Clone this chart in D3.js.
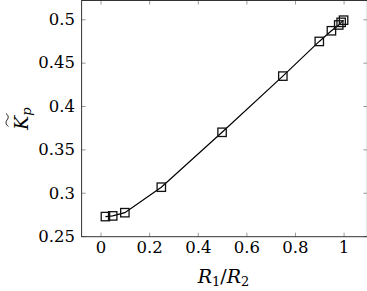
<!DOCTYPE html>
<html>
<head>
<meta charset="utf-8">
<script src="https://cdn.jsdelivr.net/npm/d3@7"></script>
<style>
  body { margin: 0; background: #fff; }
  svg { display: block; }
</style>
</head>
<body>
<div id="chart"></div>
<script>
// ratio R1/R2 and Kp (normalized)
const ratio = [0.02, 0.05, 0.1, 0.25, 0.5, 0.75, 0.9, 0.95, 0.98, 0.99, 1.0];
const kp = [0.2725, 0.2733, 0.277, 0.3064, 0.3697, 0.4345, 0.4745, 0.4868, 0.4935, 0.4965, 0.499];

const xTicks = [0, 0.2, 0.4, 0.6, 0.8, 1];
const xTickLabels = ["0", "0.2", "0.4", "0.6", "0.8", "1"];
const yTicks = [0.25, 0.3, 0.35, 0.4, 0.45, 0.5];
const yTickLabels = ["0.25", "0.3", "0.35", "0.4", "0.45", "0.5"];

const serif = "DejaVu Serif";

let width = 367,
    height = 291,
    plotLeft = 81.6,
    plotRight = 367.4,
    plotTop = 0.5,
    plotBottom = 236.7;

let x = d3.scaleLinear().domain([-0.078, 1.098]).range([plotLeft, plotRight]);
let y = d3.scaleLinear().domain([0.2493, 0.5217]).range([plotBottom, plotTop]);

let svg = d3.select("#chart")
    .append("svg")
    .attr("width", width)
    .attr("height", height)
    .attr("font-family", serif);

// ticks, pointing inward on all four sides
function styleAxis(g) {
    g.attr("font-family", serif);
    g.select(".domain").remove();
    g.selectAll(".tick line").attr("stroke", "#999").attr("stroke-width", 1);
    g.selectAll(".tick text").attr("font-size", 16.5).attr("fill", "#000");
}

svg.append("g")
    .attr("transform", "translate(0," + plotBottom + ")")
    .call(d3.axisBottom(x).tickValues(xTicks).tickSize(-4).tickPadding(5)
        .tickFormat((d, i) => xTickLabels[i]))
    .call(styleAxis);

svg.append("g")
    .attr("transform", "translate(" + plotLeft + ",0)")
    .call(d3.axisLeft(y).tickValues(yTicks).tickSize(-4).tickPadding(6.5)
        .tickFormat((d, i) => yTickLabels[i]))
    .call(styleAxis);

svg.append("g")
    .attr("transform", "translate(0," + plotTop + ")")
    .call(d3.axisTop(x).tickValues(xTicks).tickSize(-4).tickFormat(""))
    .call(styleAxis);

svg.append("g")
    .attr("transform", "translate(" + plotRight + ",0)")
    .call(d3.axisRight(y).tickValues(yTicks).tickSize(-4).tickFormat(""))
    .call(styleAxis);

// frame
svg.append("rect")
    .attr("x", plotLeft)
    .attr("y", plotTop)
    .attr("width", plotRight - plotLeft)
    .attr("height", plotBottom - plotTop)
    .attr("fill", "none")
    .attr("stroke", "#333")
    .attr("stroke-width", 1);

let data = ratio.map((r, i) => ({r: r, k: kp[i]}));

let line = d3.line()
    .x(d => x(d.r))
    .y(d => y(d.k));

svg.append("path")
    .datum(data)
    .attr("d", line)
    .attr("fill", "none")
    .attr("stroke", "#000")
    .attr("stroke-width", 1.2);

let s = 8.4;
svg.selectAll("rect.mark")
    .data(data)
    .enter()
    .append("rect")
    .attr("class", "mark")
    .attr("x", d => x(d.r) - s / 2)
    .attr("y", d => y(d.k) - s / 2)
    .attr("width", s)
    .attr("height", s)
    .attr("fill", "none")
    .attr("stroke", "#111")
    .attr("stroke-width", 1.3);

// x title: R1/R2
let xt = svg.append("text")
    .attr("x", (plotLeft + plotRight) / 2 - 1)
    .attr("y", 282.5)
    .attr("text-anchor", "middle")
    .attr("font-family", serif)
    .attr("font-size", 19);
xt.append("tspan").attr("font-style", "italic").text("R");
xt.append("tspan").attr("font-size", 13).attr("dy", 3).text("1");
xt.append("tspan").attr("dy", -3).text("/");
xt.append("tspan").attr("font-style", "italic").text("R");
xt.append("tspan").attr("font-size", 13).attr("dy", 3).text("2");

// y title: K tilde with subscript p
let yg = svg.append("g")
    .attr("transform", "translate(28,130) rotate(-90)");
let yt = yg.append("text")
    .attr("x", 0)
    .attr("y", 0)
    .attr("font-family", serif)
    .attr("font-size", 19);
yt.append("tspan").attr("font-style", "italic").text("K");
yt.append("tspan").attr("font-style", "italic").attr("font-size", 13).attr("dy", 3).text("p");
yg.append("path")
    .attr("d", "M3.5,-19.5 C5.5,-22.5 8,-22.5 10,-21 S14,-19 16.5,-22")
    .attr("fill", "none")
    .attr("stroke", "#000")
    .attr("stroke-width", 0.9);
</script>
</body>
</html>
